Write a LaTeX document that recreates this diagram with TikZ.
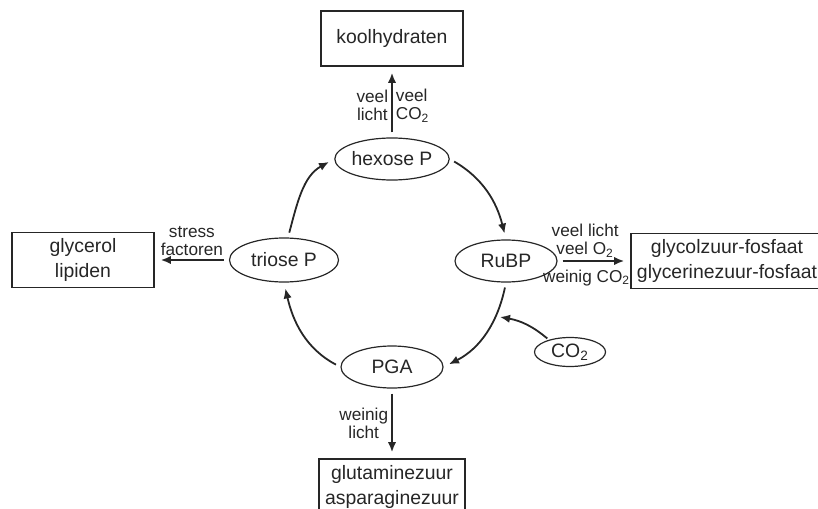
\documentclass[tikz,border=0pt]{standalone}
\usepackage{fontspec}
\setmainfont{Liberation Sans}
\usepackage{tikz}
\usetikzlibrary{positioning,shapes,arrows.meta}
\tikzstyle{box}=[draw, minimum height = 27.5pt, minimum width=71pt, inner sep=3pt, line width=0.8pt, align=center, font=\fontsize{9.7}{12.5}\selectfont]
\tikzstyle{met}=[draw, ellipse, inner sep=0pt, minimum height = 21pt, minimum width=51pt, line width=0.6pt, font=\fontsize{9.7}{12}\selectfont]
\tikzstyle{lab}=[align=center, inner sep=1.5pt, font=\fontsize{8.6}{9.2}\selectfont]
\tikzstyle{conn}=[->, line width=0.9pt, shorten <=2.5pt, shorten >=3pt]

\begin{document}
\begin{tikzpicture}[x=0.5pt,y=-0.5pt,>={Latex[length=5pt,width=4.2pt]},color=black!85]
\useasboundingbox (0,0) rectangle (818,508);
\clip (0,0) rectangle (818,508);

% cycle
\node[met] at (392,159) (hexose) {hexose P};
\node[met] at (506,261) (rubp) {RuBP};
\node[met] at (392,367) (pga) {PGA};
\node[met, minimum width=54.5pt, minimum height=22pt] at (284,260) (triose) {triose P};
\node[met, minimum width=35.5pt, minimum height=14.5pt] at (570,352) (co2) {CO\textsubscript{2}};
\coordinate (co2in) at (500,317);

\draw[conn] (triose.80) to[out=75,in=209] (hexose.west);
\draw[conn] (hexose.east) to[out=-30,in=104] (rubp.north);
\draw[conn] (rubp.south) to[out=-102,in=27] (pga.east);
\draw[conn] (pga.west) to[out=152,in=-77] (triose.south);
\draw[conn, shorten <=1pt, shorten >=0pt] (co2.150) to[out=140,in=-10] (co2in);

% products
\node[box, above of = hexose, node distance = 60.25pt] (kool) {koolhydraten};
\node[box, left of = triose, node distance = 100.5pt] (lipid) {glycerol\\lipiden};
\node[box, right of = rubp, node distance = 110.5pt] (fosf) {glycolzuur-fosfaat\\glycerinezuur-fosfaat};
\node[box, below of = pga, node distance = 60pt, minimum height=28pt] (amino) {glutaminezuur\\asparaginezuur};

\draw[conn] (hexose) -- node[lab, left, pos=0.45] {veel\\licht} node[lab, right, align=left, pos=0.45] {veel\\CO\textsubscript{2}} (kool);
\draw[conn] (triose) -- node[lab, above] {stress\\factoren} (lipid);
\draw[conn] (rubp) -- node[lab, above, pos=0.38] {veel licht\\veel O\textsubscript{2}} node[lab, below, pos=0.4, yshift=-2.5pt] {weinig CO\textsubscript{2}} (fosf);
\draw[conn] (pga) -- node[lab, left] {weinig\\licht} (amino);
\end{tikzpicture}
\end{document}
